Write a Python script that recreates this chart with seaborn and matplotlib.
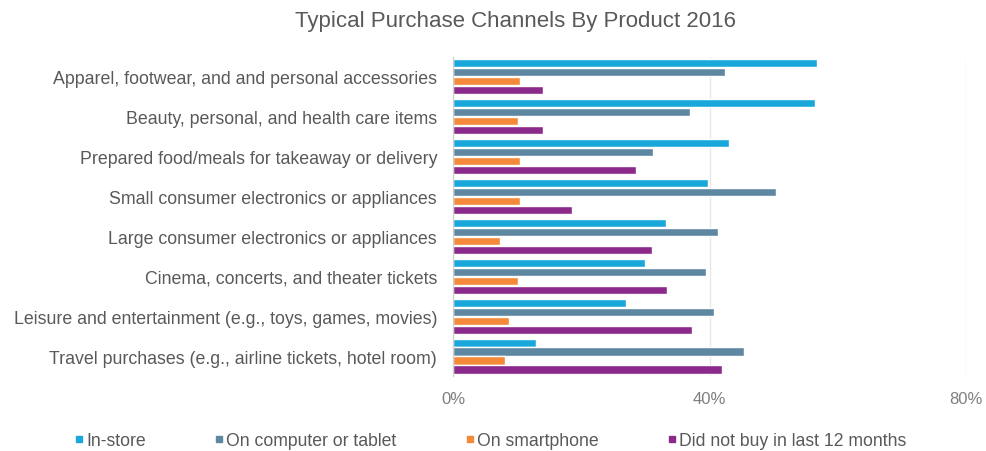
import matplotlib
matplotlib.use("Agg")
import matplotlib.pyplot as plt
import matplotlib.ticker as mticker
from matplotlib.lines import Line2D
import pandas as pd
import seaborn as sns

title = "Typical Purchase Channels By Product 2016"
products = [
    "Apparel, footwear, and and personal accessories",
    "Beauty, personal, and health care items",
    "Prepared food/meals for takeaway or delivery",
    "Small consumer electronics or appliances",
    "Large consumer electronics or appliances",
    "Cinema, concerts, and theater tickets",
    "Leisure and entertainment (e.g., toys, games, movies)",
    "Travel purchases (e.g., airline tickets, hotel room)",
]
channels = ["In-store", "On computer or tablet", "On smartphone",
            "Did not buy in last 12 months"]

in_store = [56.8, 56.4, 43.0, 39.7, 33.2, 30.0, 26.9, 13.0]
computer = [42.4, 36.9, 31.2, 50.3, 41.3, 39.4, 40.6, 45.3]
smartphone = [10.5, 10.1, 10.5, 10.5, 7.3, 10.1, 8.8, 8.1]
did_not_buy = [14.1, 14.1, 28.5, 18.5, 31.0, 33.3, 37.3, 41.9]

x_ticks = [0, 40, 80]
colors = ["#1AA8DA", "#5E87A2", "#F4893A", "#8C2A8C"]

series = [in_store, computer, smartphone, did_not_buy]
df = pd.DataFrame(
    [(p, c, v) for c, vals in zip(channels, series) for p, v in zip(products, vals)],
    columns=["product", "channel", "share"],
)

sns.set_theme(style="white")
plt.rcParams["font.family"] = ["Liberation Sans", "DejaVu Sans"]

fig = plt.figure(figsize=(9.87, 4.52), dpi=100)
ax = fig.add_axes([0.459, 0.166, 0.520, 0.706])

sns.barplot(data=df, y="product", x="share", hue="channel", order=products,
            hue_order=channels, palette=colors, orient="h", width=0.9,
            gap=0.1, saturation=1, ax=ax, legend=False)

ax.set_xlim(0, 80)
ax.set_ylim(7.5, -0.5)
ax.set_xticks(x_ticks)
ax.xaxis.set_major_formatter(mticker.FuncFormatter(lambda v, _: f"{v:.0f}%"))
ax.set_xlabel("")
ax.set_ylabel("")

ax.grid(axis="x", color="#E6E6E6", linewidth=0.9)
ax.set_axisbelow(True)
for side in ["top", "right", "bottom"]:
    ax.spines[side].set_visible(False)
ax.spines["left"].set_color("#D0D0D0")
ax.spines["left"].set_linewidth(0.9)

ax.tick_params(axis="y", length=0, pad=11.5, labelsize=12.8, labelcolor="#595959")
ax.tick_params(axis="x", length=0, pad=11, labelsize=12, labelcolor="#7F7F7F")
ax.set_yticks([i + 0.5 for i in range(-1, len(products))], minor=True)
ax.tick_params(axis="y", which="minor", length=4, color="#D0D0D0", width=0.9)

fig.suptitle(title, x=0.522, y=0.975, fontsize=16, color="#595959")

handles = [Line2D([], [], marker="s", linestyle="", markersize=5,
                  markerfacecolor=c, markeredgecolor=c) for c in colors]
fig.legend(handles, channels, loc="lower center", bbox_to_anchor=(0.497, -0.03),
           ncol=4, frameon=False, fontsize=12.7, handletextpad=0.15,
           columnspacing=3.9, labelcolor="#595959", handlelength=0.5)

fig.savefig("out.png", dpi=100)
